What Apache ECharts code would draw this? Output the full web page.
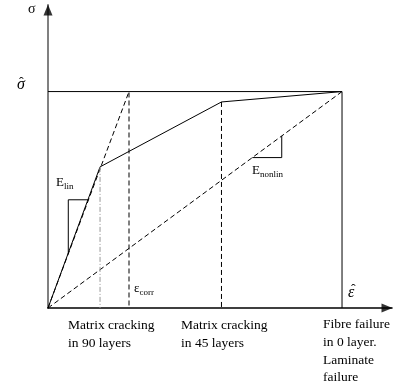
<!DOCTYPE html>
<html><head><meta charset="utf-8">
<script src="https://cdn.jsdelivr.net/npm/echarts@6/dist/echarts.min.js"></script>
<style>html,body{margin:0;padding:0;background:#fff}#c{width:394px;height:384px}</style>
</head><body><div id="c"></div>
<script>
// Data (strain normalised by ε̂, stress normalised by σ̂)
const responseStrain = [0, 0.177, 0.59, 1.0];
const responseStress = [0, 0.652, 0.952, 1.0];
const strengthStrain = [0, 1.0, 1.0];
const strengthStress = [1.0, 1.0, 0];
const linExtStrain = [0, 0.2755, 0.2755];
const linExtStress = [0, 1.0, 0];
const secantStrain = [0, 1.0];
const secantStress = [0, 1.0];
const crack45Strain = [0.59, 0.59];
const crack45Stress = [0.952, 0];
const crack90Strain = [0.177, 0.177];
const crack90Stress = [0.652, 0];
const linTriStrain = [0.069, 0.069, 0.138];
const linTriStress = [0.25, 0.5, 0.5];
const nonlinTriStrain = [0.695, 0.795, 0.795];
const nonlinTriStress = [0.695, 0.695, 0.795];
const xMax = 1.17, yMax = 1.4;

const zip = (a, b) => a.map((v, i) => [v, b[i]]);
const serif = '"Liberation Serif", "DejaVu Serif", serif';

function line(xs, ys, style) {
  return { type: 'line', data: zip(xs, ys), symbol: 'none', silent: true,
    animation: false, lineStyle: Object.assign({ color: '#000', width: 1 }, style) };
}
function arrow(pt, rot, off) {
  return { type: 'scatter', data: [pt], symbol: 'triangle', symbolSize: [9, 11],
    symbolRotate: rot, symbolOffset: off, clip: false, silent: true,
    itemStyle: { color: '#000' }, z: 5 };
}

const chart = echarts.init(document.getElementById('c'));
chart.setOption({
  backgroundColor: '#fff',
  animation: false,
  grid: { left: 48, right: 2, top: 5, bottom: 76 },
  xAxis: { type: 'value', min: 0, max: xMax,
    axisLine: { lineStyle: { color: '#000', width: 1.5 } },
    axisTick: { show: false }, axisLabel: { show: false }, splitLine: { show: false } },
  yAxis: { type: 'value', min: 0, max: yMax,
    axisLine: { lineStyle: { color: '#808080', width: 2 } },
    axisTick: { show: false }, axisLabel: { show: false }, splitLine: { show: false } },
  series: [
    line(strengthStrain, strengthStress, {}),
    line(responseStrain, responseStress, {}),
    line(linExtStrain, linExtStress, { type: [5, 3] }),
    line(secantStrain, secantStress, { type: [5, 3] }),
    line(crack45Strain, crack45Stress, { type: [5, 3] }),
    line(crack90Strain, crack90Stress, { color: '#999', type: [5, 2, 1, 2] }),
    line(linTriStrain, linTriStress, {}),
    line(nonlinTriStrain, nonlinTriStress, {}),
    arrow([0, yMax], 0, [0, 5]),
    arrow([xMax, 0], -90, [-5, 0])
  ],
  graphic: [
    { type: 'text', left: 28, top: 2, style: { text: 'σ', font: '14px ' + serif, fill: '#000' } },
    { type: 'text', left: 17, top: 77, style: { text: 'σ', font: 'italic 16px ' + serif, fill: '#000' } },
    { type: 'text', left: 19, top: 76, style: { text: 'ˆ', font: '14px ' + serif, fill: '#000' } },
    { type: 'text', left: 348, top: 285, style: { text: 'ε', font: 'italic 16px ' + serif, fill: '#000' } },
    { type: 'text', left: 351, top: 283, style: { text: 'ˆ', font: '14px ' + serif, fill: '#000' } },
    { type: 'text', left: 56, top: 176, style: { text: '{m|E}{s|lin}', rich: {
      m: { font: '13px ' + serif, fill: '#000', verticalAlign: 'bottom' },
      s: { font: '9px ' + serif, fill: '#000', verticalAlign: 'bottom', padding: [0, 0, -2, 0] } } } },
    { type: 'text', left: 252, top: 164, style: { text: '{m|E}{s|nonlin}', rich: {
      m: { font: '13px ' + serif, fill: '#000', verticalAlign: 'bottom' },
      s: { font: '9px ' + serif, fill: '#000', verticalAlign: 'bottom', padding: [0, 0, -2, 0] } } } },
    { type: 'text', left: 134, top: 282, style: { text: '{m|ε}{s|corr}', rich: {
      m: { font: '13px ' + serif, fill: '#000', verticalAlign: 'bottom' },
      s: { font: '9px ' + serif, fill: '#000', verticalAlign: 'bottom', padding: [0, 0, -2, 0] } } } },
    { type: 'text', left: 68, top: 316, style: { text: 'Matrix cracking\nin 90 layers', font: '13.5px ' + serif, lineHeight: 18, fill: '#000' } },
    { type: 'text', left: 181, top: 316, style: { text: 'Matrix cracking\nin 45 layers', font: '13.5px ' + serif, lineHeight: 18, fill: '#000' } },
    { type: 'text', left: 323, top: 316, style: { text: 'Fibre failure\nin 0 layer.\nLaminate\nfailure', font: '13.5px ' + serif, lineHeight: 17.7, fill: '#000' } }
  ]
});
</script></body></html>
